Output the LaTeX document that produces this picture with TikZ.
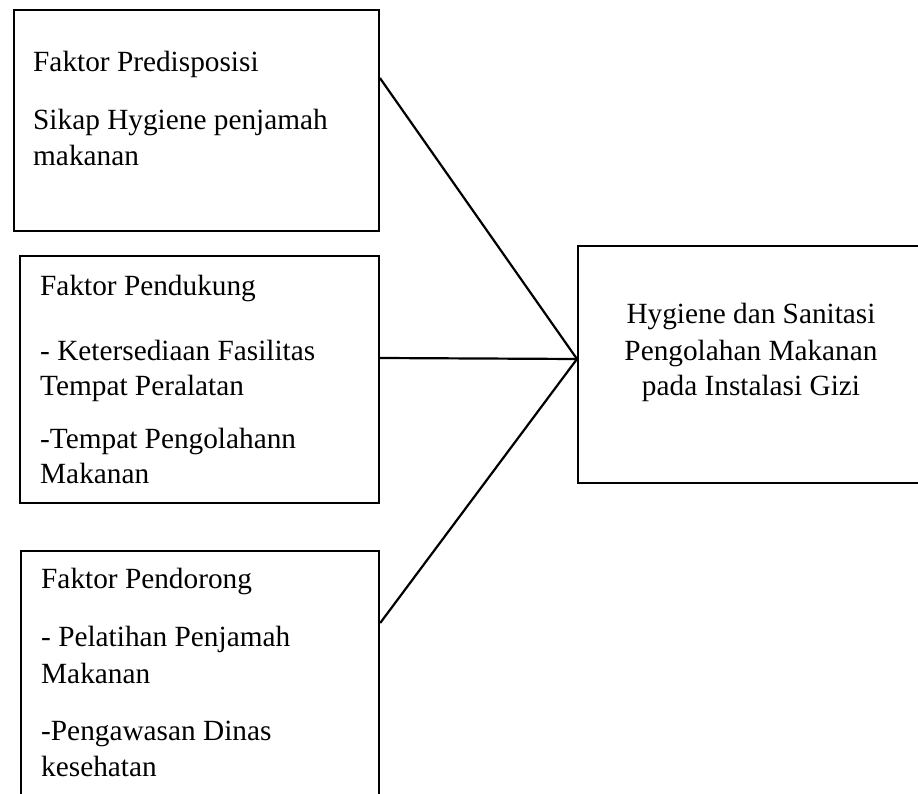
\documentclass[tikz,border=0pt]{standalone}
\usepackage{fontspec}
\setmainfont{Liberation Serif}
\usetikzlibrary{calc}
\begin{document}
\begin{tikzpicture}[x=1pt,y=-1pt,
  box/.style={draw=black,line width=2.2pt,rectangle,inner sep=0pt,anchor=north west},
  txt/.style={inner sep=0pt,anchor=base west,font=\fontsize{29.3}{35.7}\selectfont},
  ctxt/.style={inner sep=0pt,anchor=base,font=\fontsize{29.3}{35.7}\selectfont},
  link/.style={draw=black,line width=2.2pt}]
\path[use as bounding box,fill=white] (0,0) rectangle (918,794);
\begin{scope}
\clip (0,0) rectangle (918,794);
% boxes
\node[box,minimum width=364.7pt,minimum height=221pt] (b1) at (13,9) {};
\node[box,minimum width=358.7pt,minimum height=247pt] (b2) at (19,255) {};
\node[box,minimum width=358pt,minimum height=280pt] (b3) at (20,550) {};
\node[box,minimum width=345pt,minimum height=237pt] (b4) at (577,245) {};
% texts box 1
\node[txt] (t11) at (33,71.7) {Faktor Predisposisi};
\node[txt] (t12) at (33,130) {Sikap Hygiene penjamah};
\node[txt] (t13) at (33,165.7) {makanan};
% texts box 2
\node[txt] (t21) at (40,295) {Faktor Pendukung};
\node[txt] (t22) at (40,360) {- Ketersediaan Fasilitas};
\node[txt] (t23) at (40,395) {Tempat Peralatan};
\node[txt] (t24) at (40,448.3) {-Tempat Pengolahann};
\node[txt] (t25) at (40,483.3) {Makanan};
% texts box 3
\node[txt] (t31) at (41,588) {Faktor Pendorong};
\node[txt] (t32) at (41,646.7) {- Pelatihan Penjamah};
\node[txt] (t33) at (41,683.3) {Makanan};
\node[txt] (t34) at (41,740) {-Pengawasan Dinas};
\node[txt] (t35) at (41,776.7) {kesehatan};
% texts box 4
\node[ctxt] (t41) at (751,323.3) {Hygiene dan Sanitasi};
\node[ctxt] (t42) at (751,360) {Pengolahan Makanan};
\node[ctxt] (t43) at (751,395.7) {pada Instalasi Gizi};
% connection points
\coordinate (j) at (b4.west |- 0,359);
\coordinate (s1) at (b1.east |- 0,78);
\coordinate (s2) at (b2.east |- 0,358);
\coordinate (s3) at (b3.east |- 0,623);
\draw[link] (s1) -- (j);
\draw[link] (s2) -- (j);
\draw[link] (s3) -- (j);
\end{scope}
\end{tikzpicture}
\end{document}
